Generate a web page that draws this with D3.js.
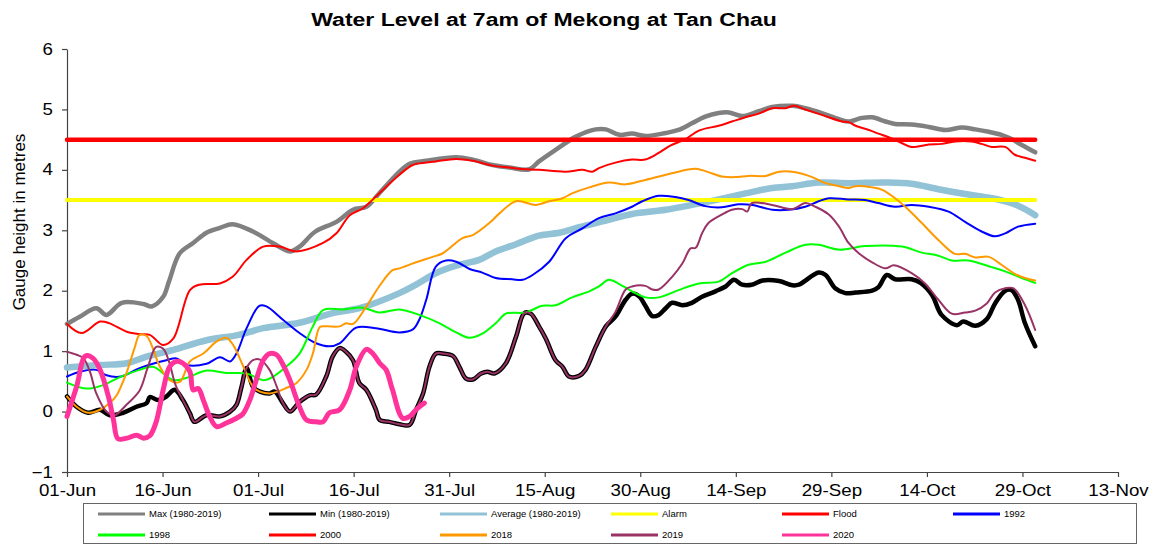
<!DOCTYPE html>
<html>
<head>
<meta charset="utf-8">
<script src="https://cdnjs.cloudflare.com/ajax/libs/d3/7.8.5/d3.min.js"></script>
<style>
  body { margin: 0; background: #fff; }
  text { font-family: Arial, "Liberation Sans", sans-serif; }
</style>
</head>
<body>
<div id="chart"></div>
<script>
// days counted from 01-Jun, values in metres
const xTickLabels = ["01-Jun", "16-Jun", "01-Jul", "16-Jul", "31-Jul", "15-Aug", "30-Aug", "14-Sep", "29-Sep", "14-Oct", "29-Oct", "13-Nov"];
const yTicks = [-1, 0, 1, 2, 3, 4, 5, 6];

const maxLevel = [[0,1.45],[2,1.57],[4.6,1.71],[6.2,1.6],[8.6,1.8],[12,1.78],[13.3,1.74],[15.1,1.9],[16,2.15],[17.7,2.62],[19.8,2.79],[21.9,2.96],[24,3.04],[26,3.1],[29.2,2.98],[32.3,2.79],[35,2.65],[36.5,2.73],[39,2.98],[42.3,3.14],[44.9,3.34],[47,3.39],[49,3.61],[52.2,3.97],[53.8,4.1],[56.4,4.15],[61.1,4.21],[63.7,4.17],[66.8,4.08],[69.4,4.04],[72.6,4.01],[74.1,4.14],[76.7,4.33],[79.9,4.55],[83,4.67],[84.6,4.67],[86.7,4.58],[88.7,4.6],[90.8,4.56],[94,4.61],[96,4.66],[98.1,4.77],[100.2,4.88],[102.3,4.94],[103.9,4.95],[106,4.89],[108.6,4.97],[110.7,5.04],[113.9,5.06],[115.9,5.02],[118.5,4.94],[121.2,4.84],[122.7,4.8],[124.8,4.86],[126.4,4.87],[128.5,4.8],[130,4.76],[132.6,4.75],[135.3,4.71],[137.9,4.66],[140.5,4.7],[142.6,4.67],[144.7,4.63],[146.7,4.58],[148.3,4.51],[149.9,4.41],[152,4.29]];

const minLevel = [[0,0.25],[1.5,0.08],[3.3,-0.02],[5.2,0.03],[6.7,-0.06],[8.8,-0.02],[10.9,0.08],[12.5,0.14],[13,0.24],[14.3,0.19],[15.6,0.25],[16.9,0.36],[18.2,0.19],[19.3,-0.03],[20,-0.17],[21.9,-0.06],[24,-0.08],[25.6,0],[26.6,0.11],[27.4,0.41],[28.2,0.72],[29.2,0.41],[30.3,0.33],[31.8,0.3],[32.6,0.33],[33.9,0.14],[35,0],[36.5,0.16],[38.1,0.27],[39.1,0.28],[40.7,0.58],[41.7,0.91],[42.8,1.05],[43.8,0.99],[44.9,0.85],[45.9,0.47],[47,0.36],[48.5,0.03],[49.1,-0.14],[50.6,-0.17],[52.2,-0.21],[53.8,-0.22],[54.8,0.03],[55.9,0.3],[56.9,0.74],[57.9,0.96],[59,0.96],[60.6,0.92],[61.6,0.74],[62.6,0.55],[63.7,0.53],[65,0.63],[66,0.66],[67.1,0.63],[68.9,0.8],[70.5,1.24],[71.8,1.63],[72.8,1.62],[74.1,1.41],[75.2,1.2],[76.7,0.85],[77.8,0.74],[78.8,0.58],[80.4,0.59],[81.4,0.69],[83,1.07],[84.6,1.41],[86.1,1.57],[87.7,1.85],[88.7,1.95],[89.8,1.91],[90.8,1.75],[91.9,1.58],[92.9,1.6],[94,1.71],[95,1.8],[96.6,1.76],[98.1,1.8],[99.7,1.9],[101.8,1.99],[103.4,2.07],[104.7,2.18],[106,2.1],[107.5,2.1],[109.2,2.17],[111.8,2.16],[113.9,2.09],[114.9,2.1],[118,2.3],[119.1,2.26],[120.6,2.04],[122.2,1.96],[123.8,1.97],[126.4,2],[127.4,2.06],[128.7,2.26],[130,2.19],[132.6,2.19],[134,2.13],[135.8,1.93],[137.3,1.6],[139.7,1.43],[140.7,1.49],[142.6,1.42],[144.4,1.53],[145.7,1.79],[147.3,2],[148.3,2.01],[149.3,1.85],[150.4,1.46],[152,1.08]];

const averageLevel = [[0,0.73],[5,0.77],[9.4,0.8],[12.5,0.91],[16.7,1.02],[21.9,1.18],[27,1.27],[30.8,1.38],[36.5,1.47],[41.7,1.63],[45.9,1.71],[52.2,1.96],[54.8,2.1],[57.9,2.29],[61.6,2.43],[64.7,2.51],[67.3,2.65],[70.5,2.77],[74.1,2.91],[77.3,2.96],[80.4,3.05],[84.6,3.16],[88.7,3.27],[94,3.34],[98.1,3.42],[101.8,3.5],[106.5,3.61],[110.7,3.7],[113.9,3.73],[118,3.79],[122.7,3.78],[128.5,3.79],[132.6,3.77],[136.8,3.68],[141,3.6],[145.2,3.53],[148.3,3.45],[150.4,3.35],[152,3.25]];

const alarmLevel = [[0,3.5],[152,3.5]];
const floodLevel = [[0,4.5],[152,4.5]];

const year1992 = [[0,0.58],[2,0.66],[4.6,0.69],[6.2,0.6],[8.5,0.58],[11.4,0.72],[15.6,0.85],[17.2,0.88],[18.8,0.77],[21.9,0.79],[24,0.9],[25.6,0.83],[26.6,0.96],[28.2,1.38],[30.2,1.75],[31.3,1.74],[33.9,1.52],[36.5,1.3],[39.1,1.13],[41.2,1.08],[42.8,1.13],[45.4,1.39],[48.5,1.38],[52.2,1.31],[54.3,1.36],[55.3,1.52],[56.4,1.85],[57.9,2.4],[59.5,2.5],[61.1,2.48],[63.2,2.36],[65.2,2.3],[67.3,2.21],[69.9,2.19],[71.5,2.18],[73.1,2.26],[75.7,2.48],[78.3,2.87],[80.9,3.03],[83.5,3.2],[86.1,3.28],[88.7,3.39],[90.3,3.48],[92.9,3.57],[95.5,3.55],[97.6,3.5],[100.2,3.4],[102.8,3.38],[105.4,3.43],[107.6,3.42],[110.7,3.34],[113.3,3.34],[115.9,3.39],[118,3.48],[119.6,3.53],[122.7,3.51],[125.3,3.5],[127.4,3.45],[130,3.39],[132.6,3.42],[135.3,3.39],[138.4,3.31],[141,3.14],[143.6,2.98],[145.7,2.9],[147.3,2.95],[149.3,3.06],[152,3.11]];

const year1998 = [[0,0.48],[3.1,0.38],[5.7,0.44],[8.3,0.57],[11.4,0.69],[13.5,0.74],[16.7,0.52],[18.8,0.56],[21.9,0.68],[25,0.64],[28.2,0.63],[30.8,0.52],[32.4,0.58],[34.4,0.74],[36.5,0.96],[38.6,1.41],[40.2,1.68],[43.3,1.69],[46.4,1.72],[49,1.64],[52.2,1.69],[55.3,1.6],[58.5,1.46],[61.1,1.31],[63.2,1.22],[65.2,1.29],[67.3,1.46],[68.9,1.62],[72,1.64],[74.6,1.75],[76.7,1.76],[79.3,1.89],[82,1.99],[83.5,2.07],[85.1,2.18],[86.7,2.11],[88.7,1.99],[90.8,1.89],[92.9,1.89],[96,2.01],[99.2,2.12],[102.3,2.15],[104.4,2.29],[107,2.43],[109.7,2.48],[112.8,2.63],[115.9,2.76],[118,2.76],[121.2,2.68],[125.3,2.74],[131.1,2.73],[134.2,2.63],[136.8,2.58],[138.9,2.5],[141.5,2.5],[145.2,2.39],[147.3,2.32],[149.9,2.21],[152,2.13]];

const year2000 = [[0,1.45],[2.3,1.3],[5.2,1.49],[6.7,1.46],[9.4,1.32],[11.4,1.28],[13,1.27],[15.1,1.1],[16.7,1.21],[19.3,2.01],[20.8,2.1],[24,2.12],[26,2.23],[28.2,2.51],[30.8,2.73],[33.4,2.73],[36,2.65],[40.2,2.79],[42.3,2.95],[44.4,3.25],[46.4,3.36],[49,3.61],[52.2,3.92],[54.3,4.08],[56.4,4.12],[57.9,4.14],[61.1,4.18],[63.7,4.15],[66.8,4.07],[69.4,4.04],[71,4.02],[74.1,4],[78.3,3.97],[80.9,4],[82.5,3.97],[83.5,4.03],[86.1,4.12],[88.7,4.17],[90.8,4.17],[92.9,4.28],[94.5,4.39],[97.1,4.51],[99.2,4.65],[102.3,4.73],[104.4,4.8],[106.5,4.87],[108.6,4.93],[110.7,5.02],[112.8,5.02],[114.1,5.06],[115.9,5],[118.5,4.91],[121.7,4.8],[122.7,4.79],[123.8,4.73],[125.9,4.66],[127.4,4.6],[129,4.54],[131.1,4.44],[132.6,4.38],[135.3,4.42],[137.3,4.43],[139.4,4.47],[142,4.47],[143.6,4.43],[145.2,4.38],[147.3,4.38],[148.8,4.25],[150.4,4.2],[152,4.15]];

const year2018 = [[0,0.25],[1.5,0.08],[3.3,-0.02],[5.2,0.03],[6.7,0.14],[7.8,0.27],[9.3,0.63],[10.6,1.05],[11.4,1.27],[12.5,1.25],[14.6,0.74],[16.1,0.52],[17.7,0.49],[19.3,0.83],[21.4,0.96],[23.5,1.16],[25,1.22],[26.1,1.1],[27.7,0.74],[29.2,0.41],[30.3,0.33],[31.8,0.3],[33.1,0.33],[34.4,0.39],[36,0.47],[37.6,0.69],[38.6,0.96],[39.7,1.4],[40.7,1.41],[42.8,1.41],[43.8,1.46],[44.9,1.45],[47,1.74],[49,2.07],[51.1,2.34],[52.2,2.37],[54.8,2.47],[57.4,2.56],[59,2.62],[62.1,2.87],[63.7,2.92],[66.3,3.12],[67.9,3.28],[70.5,3.48],[73.6,3.42],[75.7,3.48],[77.8,3.53],[79.3,3.61],[82,3.71],[85.1,3.79],[87.7,3.76],[90.3,3.82],[94,3.92],[96,3.97],[98.7,4.02],[101.3,3.94],[102.8,3.89],[104.9,3.88],[107,3.9],[109.7,3.9],[111.8,3.97],[114.4,3.96],[117,3.88],[119.1,3.78],[121.2,3.73],[122.7,3.7],[123.8,3.73],[126.4,3.71],[128,3.67],[130,3.53],[132.1,3.34],[134.2,3.12],[136.8,2.84],[139.4,2.61],[141,2.61],[142.6,2.55],[144.7,2.56],[146.7,2.43],[148.8,2.28],[150.4,2.21],[152,2.17]];

const year2019 = [[0,0.99],[1.5,0.94],[2.6,0.88],[3.6,0.66],[4.6,0.3],[6.2,0],[7.5,-0.06],[9.3,0.11],[11.4,0.35],[12.7,0.74],[14,1.07],[15.1,1.04],[16.1,0.8],[17,0.45],[18.2,0.19],[19.3,-0.03],[20,-0.17],[21.9,-0.06],[24,-0.08],[25.6,0],[26.6,0.11],[27.4,0.41],[28.2,0.72],[29.2,0.85],[30.3,0.86],[31.8,0.69],[32.9,0.42],[33.9,0.14],[35,0],[36.5,0.16],[38.1,0.27],[39.1,0.28],[40.7,0.58],[41.7,0.91],[42.8,1.05],[43.8,0.99],[44.9,0.85],[45.9,0.47],[47,0.36],[48.5,0.03],[49.1,-0.14],[50.6,-0.17],[52.2,-0.21],[53.8,-0.22],[54.8,0.03],[55.9,0.3],[56.9,0.74],[57.9,0.96],[59,0.96],[60.6,0.92],[61.6,0.74],[62.6,0.55],[63.7,0.53],[65,0.63],[66,0.66],[67.1,0.63],[68.9,0.8],[70.5,1.24],[71.8,1.63],[72.8,1.62],[74.1,1.41],[75.2,1.2],[76.7,0.85],[77.8,0.74],[78.8,0.58],[80.4,0.59],[81.4,0.69],[83,1.07],[84.6,1.41],[86.1,1.65],[87.7,2.02],[88.7,2.07],[90.8,2.08],[91.9,2.02],[92.9,2.02],[95,2.23],[96.6,2.45],[97.9,2.7],[98.7,2.71],[99.7,2.95],[100.7,3.12],[102.8,3.26],[104.4,3.34],[106,3.35],[106.8,3.31],[107.5,3.45],[110.7,3.42],[113.9,3.35],[115.9,3.45],[117.5,3.39],[119.6,3.26],[121.2,3.06],[122.7,2.79],[124.3,2.62],[126.4,2.47],[128.5,2.37],[129.8,2.42],[132.6,2.29],[134.7,2.12],[136.8,1.85],[138.9,1.62],[141,1.64],[142.6,1.67],[144.4,1.79],[145.7,1.97],[147.3,2.04],[148.6,2.04],[150.4,1.76],[152,1.35]];

const year2020 = [[0,-0.08],[1.5,0.41],[2.9,0.92],[4.1,0.88],[5.2,0.69],[6.5,0.25],[7.3,-0.14],[8,-0.45],[9.4,-0.44],[10.9,-0.39],[12,-0.44],[13,-0.4],[14,-0.17],[15.1,0.36],[16.1,0.74],[17.2,0.83],[18.2,0.8],[19.3,0.66],[19.8,0.36],[20.6,0.38],[21.4,0.19],[22.4,-0.08],[23.5,-0.25],[25,-0.19],[26.6,-0.11],[27.6,-0.04],[28.7,0.19],[29.7,0.52],[30.8,0.85],[31.8,0.96],[32.9,0.94],[33.9,0.78],[35,0.52],[36.5,0.08],[37.6,-0.14],[39.1,-0.17],[40.2,-0.17],[41.2,-0.02],[42.8,0.03],[44.4,0.36],[45.4,0.74],[47,1.03],[48,0.96],[49.1,0.8],[50.1,0.69],[51.1,0.36],[52.7,-0.11],[53.8,-0.08],[54.8,0.03],[56.1,0.14]];

const seriesNames = ["Max (1980-2019)", "Min (1980-2019)", "Average (1980-2019)", "Alarm", "Flood", "1992", "1998", "2000", "2018", "2019", "2020"];
const seriesValues = [maxLevel, minLevel, averageLevel, alarmLevel, floodLevel, year1992, year1998, year2000, year2018, year2019, year2020];

// looks, kept apart from the data
const seriesColors = ["#808080", "#000000", "#92c2d6", "#ffff00", "#ff0000", "#0000ff", "#00ff00", "#ff0000", "#ff9900", "#993366", "#ff3399"];
const seriesWidths = [4.5, 4.5, 6.5, 4, 4.5, 2, 2, 2, 2, 2, 5];

let width = 1156, height = 545;
let margin = {left: 67, right: 38, top: 49, bottom: 73};

let svg = d3.select("#chart")
  .append("svg")
  .attr("width", width)
  .attr("height", height);

let x = d3.scaleLinear()
  .domain([0, 165])
  .range([margin.left, width - margin.right]);

let y = d3.scaleLinear()
  .domain([-1, 6])
  .range([height - margin.bottom, margin.top]);

svg.append("g")
  .attr("transform", "translate(544,26) scale(1.28,1)")
  .append("text")
  .attr("text-anchor", "middle")
  .style("font-size", "18px")
  .style("font-weight", "bold")
  .text("Water Level at 7am of Mekong at Tan Chau");

// axes
let xAxis = svg.append("g")
  .attr("transform", "translate(0," + y(-1) + ")")
  .call(d3.axisBottom(x)
    .tickValues(d3.range(0, 166, 15))
    .tickFormat(function(d, i) { return xTickLabels[i]; })
    .tickSize(5)
    .tickSizeOuter(0)
    .tickPadding(8));

xAxis.selectAll("text")
  .attr("transform", "scale(1.17,1)")
  .style("font-size", "16px")
  .attr("fill", "#000");

let yAxis = svg.append("g")
  .attr("transform", "translate(" + x(0) + ",0)")
  .call(d3.axisLeft(y)
    .tickValues(yTicks)
    .tickFormat(d3.format("d"))
    .tickSize(5)
    .tickSizeOuter(0));

yAxis.selectAll("text")
  .attr("x", -12)
  .attr("transform", "scale(1.17,1)")
  .style("font-size", "16px")
  .attr("fill", "#000");

svg.selectAll(".domain, .tick line").attr("stroke", "#444").attr("stroke-width", 1.2);

svg.append("text")
  .attr("transform", "translate(25,222) rotate(-90)")
  .attr("text-anchor", "middle")
  .style("font-size", "17px")
  .text("Gauge height in metres");

// the lines, drawn in legend order
let line = d3.line()
  .x(function(d) { return x(d[0]); })
  .y(function(d) { return y(d[1]); })
  .curve(d3.curveCatmullRom.alpha(0.5));

svg.append("g")
  .selectAll("path")
  .data(seriesValues)
  .enter().append("path")
  .attr("d", line)
  .attr("fill", "none")
  .attr("stroke", function(d, i) { return seriesColors[i]; })
  .attr("stroke-width", function(d, i) { return seriesWidths[i]; })
  .attr("stroke-linejoin", "round")
  .attr("stroke-linecap", "round");

// legend box
let legend = svg.append("g");

legend.append("rect")
  .attr("x", 83.5)
  .attr("y", 503.5)
  .attr("width", 1053)
  .attr("height", 40)
  .attr("fill", "none")
  .attr("stroke", "#666")
  .attr("stroke-width", 1);

let items = legend.selectAll("g.item")
  .data(seriesNames)
  .enter()
  .append("g")
  .classed("item", true)
  .attr("transform", function(d, i) {
    return "translate(" + (98 + (i % 6) * 171) + "," + (514 + Math.floor(i / 6) * 21) + ")";
  });

items.append("line")
  .attr("x1", 0)
  .attr("x2", 47)
  .attr("stroke", function(d, i) { return seriesColors[i]; })
  .attr("stroke-width", 3);

items.append("text")
  .attr("x", 51)
  .attr("dy", "0.35em")
  .style("font-size", "9.5px")
  .text(function(d) { return d; });
</script>
</body>
</html>
